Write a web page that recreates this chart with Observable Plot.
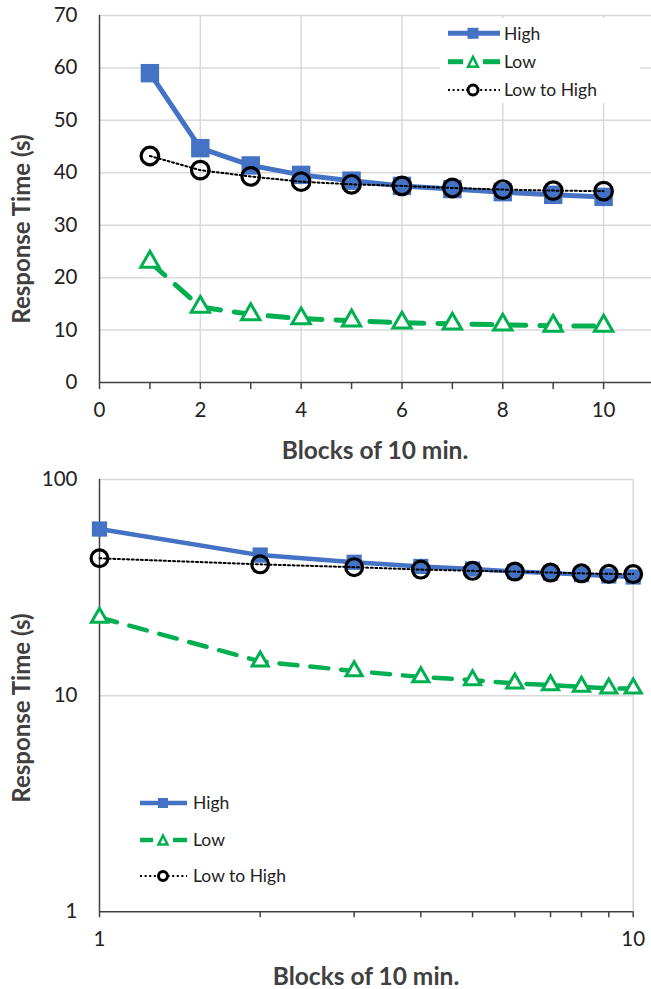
<!DOCTYPE html>
<html>
<head>
<meta charset="utf-8">
<script src="https://cdn.jsdelivr.net/npm/d3@7"></script>
<script src="https://cdn.jsdelivr.net/npm/@observablehq/plot@0.6"></script>
<style>
  html, body { margin: 0; padding: 0; background: #fff; }
  #wrap { width: 651px; }
  #wrap svg { display: block; }
</style>
</head>
<body>
<div id="wrap"></div>
<script>
// ---- data ----
const blocks = [1, 2, 3, 4, 5, 6, 7, 8, 9, 10];
const high = [59.0, 44.7, 41.4, 39.6, 38.5, 37.5, 36.9, 36.3, 35.8, 35.4];
const low = [23.0, 14.4, 13.0, 12.2, 11.8, 11.4, 11.2, 11.0, 10.8, 10.8];
const lowToHigh = [43.2, 40.5, 39.3, 38.3, 37.8, 37.5, 37.1, 36.8, 36.6, 36.5];

const seriesNames = ["High", "Low", "Low to High"];
const xTitle = "Blocks of 10 min.";
const yTitle = "Response Time (s)";

const linTicksY = [0, 10, 20, 30, 40, 50, 60, 70];
const linTicksX = [0, 1, 2, 3, 4, 5, 6, 7, 8, 9, 10];
const linLabelsX = [0, 2, 4, 6, 8, 10];
const logTicksY = [1, 10, 100];
const logTicksX = [1, 2, 3, 4, 5, 6, 7, 8, 9, 10];
const logLabelsX = [1, 10];

const rows = blocks.map((b, i) => ({block: b, high: high[i], low: low[i], lth: lowToHigh[i]}));

const BLUE = "#4472C4", GREEN = "#00B050", BLACK = "#000000";
const FONT = "Lato, 'Open Sans', sans-serif";

function seriesMarks(s) {
  return [
    Plot.line(rows, {x: "block", y: "low", stroke: GREEN, strokeWidth: s.lw, strokeDasharray: s.dash}),
    Plot.dot(rows, {x: "block", y: "low", symbol: "triangle", r: s.rTri, fill: "white", stroke: GREEN, strokeWidth: 3}),
    Plot.line(rows, {x: "block", y: "high", stroke: BLUE, strokeWidth: s.lw}),
    Plot.dot(rows, {x: "block", y: "high", symbol: "square", r: s.rSq, fill: BLUE, stroke: "none"}),
    Plot.line(rows, {x: "block", y: "lth", stroke: BLACK, strokeWidth: 2, strokeDasharray: "2,2.6"}),
    Plot.dot(rows, {x: "block", y: "lth", symbol: "circle", r: s.rCi, fill: "none", stroke: BLACK, strokeWidth: 3.2})
  ];
}

function addLegend(svg, lg) {
  const g = d3.select(svg).append("g").attr("text-anchor", "start");
  if (lg.bg) g.append("rect").attr("x", lg.bg[0]).attr("y", lg.bg[1]).attr("width", lg.bg[2]).attr("height", lg.bg[3]).attr("fill", "white");
  const [x0, xm, x1, xt] = lg.x;
  lg.y.forEach((y, i) => {
    if (i === 0) {
      g.append("line").attr("x1", x0).attr("x2", x1).attr("y1", y).attr("y2", y).attr("stroke", BLUE).attr("stroke-width", lg.lw);
      g.append("rect").attr("x", xm - lg.m / 2).attr("y", y - lg.m / 2).attr("width", lg.m).attr("height", lg.m).attr("fill", BLUE);
    } else if (i === 1) {
      g.append("line").attr("x1", x0).attr("x2", xm - 10).attr("y1", y).attr("y2", y).attr("stroke", GREEN).attr("stroke-width", lg.lw);
      g.append("line").attr("x1", xm + 10).attr("x2", x1).attr("y1", y).attr("y2", y).attr("stroke", GREEN).attr("stroke-width", lg.lw);
      const h = lg.m * 0.9, w = lg.m * 0.9;
      g.append("path").attr("d", `M${xm},${y - h / 2}L${xm + w / 2},${y + h / 2}L${xm - w / 2},${y + h / 2}Z`)
        .attr("fill", "white").attr("stroke", GREEN).attr("stroke-width", 2.5);
    } else {
      g.append("line").attr("x1", x0).attr("x2", x1).attr("y1", y).attr("y2", y).attr("stroke", BLACK).attr("stroke-width", 2).attr("stroke-dasharray", "2,2.6");
      g.append("circle").attr("cx", xm).attr("cy", y).attr("r", lg.m / 2 - 0.5).attr("fill", "white").attr("stroke", BLACK).attr("stroke-width", 3);
    }
    g.append("text").attr("x", xt).attr("y", y).attr("dy", "0.36em").attr("fill", "#222").attr("text-anchor", "start")
      .style("font", `${lg.fs}px ${FONT}`).text(seriesNames[i]);
  });
}

function addTitles(svg, t) {
  const s = d3.select(svg);
  s.append("text").attr("x", t.xt[0]).attr("y", t.xt[1]).attr("text-anchor", "middle").attr("dy", "0.36em")
    .attr("fill", "#404040").style("font", `bold 24.5px ${FONT}`).text(xTitle);
  s.append("text").attr("transform", `translate(${t.yt[0]},${t.yt[1]}) rotate(-90)`).attr("text-anchor", "middle").attr("dy", "0.36em")
    .attr("fill", "#404040").style("font", `bold 24px ${FONT}`).text(yTitle);
}

const gridStyle = {stroke: "#d9d9d9", strokeOpacity: 1, strokeWidth: 1.5};

// ---- top: linear ----
const topChart = Plot.plot({
  width: 651, height: 460,
  marginTop: 15, marginBottom: 78, marginLeft: 99, marginRight: 0,
  style: {fontFamily: FONT, fontSize: "20.5px", color: "#222", background: "white", overflow: "visible"},
  x: {domain: [0, 10.95]},
  y: {domain: [0, 70]},
  marks: [
    Plot.gridX(linLabelsX.filter(d => d > 0), gridStyle),
    Plot.gridY(linTicksY.filter(d => d > 0), gridStyle),
    Plot.axisY(linTicksY, {tickSize: 0, tickPadding: 22, label: null}),
    Plot.axisX(linTicksX, {tickSize: 7, tickPadding: 13, label: null, stroke: "#404040", strokeWidth: 1.5,
      tickFormat: d => linLabelsX.includes(d) ? String(d) : ""}),
    Plot.ruleY([0], {stroke: "#404040", strokeWidth: 1.5}),
    Plot.ruleX([0], {stroke: "#404040", strokeWidth: 1.5}),
    ...seriesMarks({lw: 5, dash: "20,14", rSq: 10.4, rCi: 8.8, rTri: 6.8})
  ]
});
addLegend(topChart, {bg: [440, 18, 200, 85], x: [448, 473, 500, 504], y: [33.3, 61.7, 90], lw: 5, m: 11, fs: 17.5});
addTitles(topChart, {xt: [375, 450], yt: [21, 229]});

// ---- bottom: log-log ----
const bottomChart = Plot.plot({
  width: 651, height: 529,
  marginTop: 19, marginBottom: 77.7, marginLeft: 99, marginRight: 18.3,
  style: {fontFamily: FONT, fontSize: "20.5px", color: "#222", background: "white", overflow: "visible"},
  x: {type: "log", domain: [1, 10]},
  y: {type: "log", domain: [1, 100]},
  marks: [
    Plot.gridX([10], gridStyle),
    Plot.gridY([10, 100], gridStyle),
    Plot.axisY(logTicksY, {tickSize: 0, tickPadding: 22, label: null, tickFormat: d => String(d)}),
    Plot.axisX(logTicksX, {tickSize: 6, tickPadding: 14, label: null, stroke: "#404040", strokeWidth: 1.5,
      tickFormat: d => logLabelsX.includes(d) ? String(d) : ""}),
    Plot.ruleY([1], {stroke: "#404040", strokeWidth: 1.5}),
    Plot.ruleX([1], {stroke: "#404040", strokeWidth: 1.5}),
    ...seriesMarks({lw: 4.5, dash: "18,13", rSq: 8.6, rCi: 8.4, rTri: 6})
  ]
});
addLegend(bottomChart, {bg: null, x: [140, 163, 187, 193], y: [343, 380, 416], lw: 4.5, m: 10, fs: 17.5});
addTitles(bottomChart, {xt: [366, 516], yt: [21, 248]});

document.getElementById("wrap").append(topChart, bottomChart);
</script>
</body>
</html>
